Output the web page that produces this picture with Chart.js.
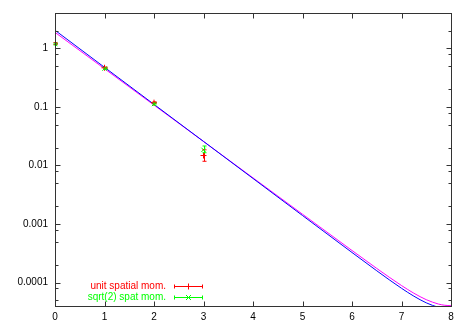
<!DOCTYPE html>
<html><head><meta charset="utf-8">
<script src="https://cdn.jsdelivr.net/npm/chart.js@4/dist/chart.umd.min.js"></script>
<style>html,body{margin:0;padding:0;background:#fff}#wrap{width:469px;height:327px;position:relative}</style>
</head><body><div id="wrap"><canvas id="c" width="469" height="327"></canvas></div>
<script>
const xTicks = [0, 1, 2, 3, 4, 5, 6, 7, 8];
const yTickValues = [0.0001, 0.001, 0.01, 0.1, 1];
const yTickLabels = ['0.0001', '0.001', '0.01', '0.1', '1'];

const seriesNames = ['unit spatial mom.', 'sqrt(2) spat mom.'];
const dataX = [0, 1, 2, 3];
const unitY = [1.20, 0.465, 0.118, 0.0148];
const unitLow = [1.16, 0.452, 0.114, 0.0118];
const unitHigh = [1.25, 0.478, 0.122, 0.0185];
const sqrt2Y = [1.18, 0.450, 0.112, 0.0185];
const sqrt2Low = [1.14, 0.438, 0.108, 0.0165];
const sqrt2High = [1.22, 0.462, 0.116, 0.0215];

const fitX = [0, 1, 2, 3, 4, 5, 6, 6.5, 6.75, 7, 7.25, 7.5, 7.75, 7.875, 8];
const fitBlue = [2.030, 0.4733, 0.11035, 0.02574, 0.006003, 0.0014001, 3.274e-4, 1.5965e-4, 1.1241e-4, 8.026e-5, 5.885e-5, 4.533e-5, 3.788e-5, 3.609e-5, 3.55e-5];
const fitMagenta = [1.870, 0.4477, 0.10723, 0.02569, 0.006152, 0.0014737, 3.541e-4, 1.751e-4, 1.2425e-4, 8.94e-5, 6.608e-5, 5.129e-5, 4.311e-5, 4.115e-5, 4.05e-5];

const RED = '#ff0000', GREEN = '#00ff00', BLUE = '#0000ff', MAGENTA = '#ff00ff';
const FONT = '"Liberation Sans", Arial, sans-serif';

const pts = (xs, ys) => xs.map((x, i) => ({x: x, y: ys[i]}));

const errorBars = {
  id: 'errorBars',
  afterDatasetsDraw(chart) {
    const ctx = chart.ctx, xs = chart.scales.x, ys = chart.scales.y;
    ctx.save();
    chart.data.datasets.forEach(ds => {
      if (!ds.errLow) return;
      ctx.strokeStyle = ds.borderColor;
      ctx.lineWidth = 1;
      ds.data.forEach((p, i) => {
        const px = Math.round(xs.getPixelForValue(p.x)) + 0.5;
        const y1 = ys.getPixelForValue(ds.errLow[i]);
        const y2 = ys.getPixelForValue(ds.errHigh[i]);
        ctx.beginPath();
        ctx.moveTo(px, y1); ctx.lineTo(px, y2);
        ctx.moveTo(px - 2, y1); ctx.lineTo(px + 2, y1);
        ctx.moveTo(px - 2, y2); ctx.lineTo(px + 2, y2);
        ctx.stroke();
      });
    });
    ctx.restore();
  }
};

const frame = {
  id: 'frame',
  afterDraw(chart) {
    const ctx = chart.ctx, a = chart.chartArea, xs = chart.scales.x, ys = chart.scales.y;
    ctx.save();
    ctx.strokeStyle = '#333';
    ctx.lineWidth = 1;
    const L = Math.round(a.left) + 0.5, R = Math.round(a.right) + 0.5;
    const T = Math.round(a.top) + 0.5, B = Math.round(a.bottom) + 0.5;
    ctx.strokeRect(L, T, R - L, B - T);
    ctx.beginPath();
    xTicks.forEach(v => {
      const px = Math.round(xs.getPixelForValue(v)) + 0.5;
      ctx.moveTo(px, B); ctx.lineTo(px, B - 5);
      ctx.moveTo(px, T); ctx.lineTo(px, T + 5);
    });
    yTickValues.forEach(v => {
      const py = Math.round(ys.getPixelForValue(v)) + 0.5;
      ctx.moveTo(L, py); ctx.lineTo(L + 5, py);
      ctx.moveTo(R, py); ctx.lineTo(R - 5, py);
    });
    [1e-5, 1e-4, 1e-3, 1e-2, 0.1, 1].forEach(d => {
      [2, 5, 8].forEach(m => {
        const v = d * m;
        if (v < ys.min || v > ys.max) return;
        const py = Math.round(ys.getPixelForValue(v)) + 0.5;
        ctx.moveTo(L, py); ctx.lineTo(L + 3, py);
        ctx.moveTo(R, py); ctx.lineTo(R - 3, py);
      });
    });
    ctx.stroke();

    // key
    const rows = [
      {name: seriesNames[0], color: RED, sym: '+', y: 286.5},
      {name: seriesNames[1], color: GREEN, sym: 'x', y: 297.5}
    ];
    ctx.font = '10px ' + FONT;
    ctx.textAlign = 'right';
    ctx.textBaseline = 'middle';
    rows.forEach(r => {
      ctx.fillStyle = r.color;
      ctx.fillText(r.name, 166, r.y);
      ctx.strokeStyle = r.color;
      ctx.beginPath();
      ctx.moveTo(174, r.y); ctx.lineTo(203, r.y);
      ctx.moveTo(174.5, r.y - 2); ctx.lineTo(174.5, r.y + 2);
      ctx.moveTo(202.5, r.y - 2); ctx.lineTo(202.5, r.y + 2);
      const cx = 188.5;
      if (r.sym === '+') {
        ctx.moveTo(cx, r.y - 3); ctx.lineTo(cx, r.y + 3);
      } else {
        ctx.moveTo(cx - 2.5, r.y - 2.5); ctx.lineTo(cx + 2.5, r.y + 2.5);
        ctx.moveTo(cx - 2.5, r.y + 2.5); ctx.lineTo(cx + 2.5, r.y - 2.5);
      }
      ctx.stroke();
    });
    ctx.restore();
  }
};

new Chart(document.getElementById('c'), {
  type: 'line',
  data: {
    datasets: [
      {label: seriesNames[0], data: pts(dataX, unitY), errLow: unitLow, errHigh: unitHigh,
       showLine: false, borderColor: RED, backgroundColor: RED, pointStyle: 'cross',
       pointRadius: 3, pointBorderWidth: 1},
      {label: seriesNames[1], data: pts(dataX, sqrt2Y), errLow: sqrt2Low, errHigh: sqrt2High,
       showLine: false, borderColor: GREEN, backgroundColor: GREEN, pointStyle: 'crossRot',
       pointRadius: 3, pointBorderWidth: 1},
      {label: 'fit 1', data: pts(fitX, fitBlue), borderColor: BLUE, borderWidth: 1,
       pointRadius: 0, cubicInterpolationMode: 'monotone', clip: 0},
      {label: 'fit 2', data: pts(fitX, fitMagenta), borderColor: MAGENTA, borderWidth: 1,
       pointRadius: 0, cubicInterpolationMode: 'monotone', clip: 0}
    ]
  },
  options: {
    responsive: false,
    animation: false,
    events: [],
    layout: {padding: {top: 13, right: 18, left: 0, bottom: 0}},
    plugins: {legend: {display: false}, tooltip: {enabled: false}},
    scales: {
      x: {
        type: 'linear', min: 0, max: 8,
        grid: {display: false, drawTicks: false},
        border: {display: false},
        afterBuildTicks: s => { s.ticks = xTicks.map(v => ({value: v})); },
        afterFit: s => { s.height = 21; },
        ticks: {autoSkip: false, maxRotation: 0, padding: 5, color: '#000',
                font: {family: FONT, size: 10}, callback: v => String(v)}
      },
      y: {
        type: 'logarithmic', min: 0.00004, max: 4,
        grid: {display: false, drawTicks: false},
        border: {display: false},
        afterBuildTicks: s => { s.ticks = yTickValues.map(v => ({value: v})); },
        afterFit: s => { s.width = 55; },
        ticks: {autoSkip: false, padding: 7, color: '#000',
                font: {family: FONT, size: 10},
                callback: (v) => { const i = yTickValues.indexOf(v); return i >= 0 ? yTickLabels[i] : ''; }}
      }
    }
  },
  plugins: [errorBars, frame]
});
</script>
</body></html>
